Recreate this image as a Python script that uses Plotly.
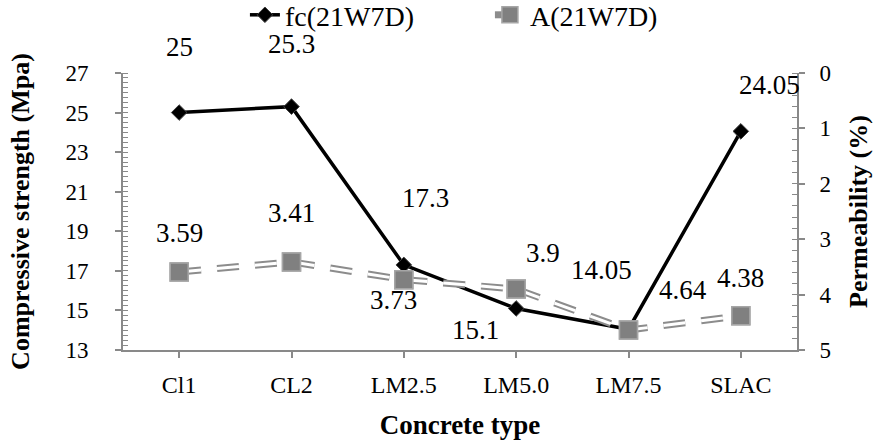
import plotly.graph_objects as go

categories = ["Cl1", "CL2", "LM2.5", "LM5.0", "LM7.5", "SLAC"]
fc_values = [25, 25.3, 17.3, 15.1, 14.05, 24.05]
a_values = [3.59, 3.41, 3.73, 3.9, 4.64, 4.38]
fc_labels = ["25", "25.3", "17.3", "15.1", "14.05", "24.05"]
a_labels = ["3.59", "3.41", "3.73", "3.9", "4.64", "4.38"]

# label offsets (pixels) relative to the points
fc_shift = [(0, 66), (0, 63), (22, 67), (-41, -22), (-27, 59), (29, 46)]
a_shift = [(0, 39), (0, 49), (-10, -20), (27, 36), (54, 40), (0, 38)]

FONT = "Liberation Serif"
AX = "#898989"
DASH = "22px,16px"
LBL = 27

fig = go.Figure()
# A: gray outer dashed line (legend entry) with markers
fig.add_trace(go.Scatter(
    x=categories, y=a_values, name="A(21W7D)", mode="lines+markers", yaxis="y2",
    line=dict(color="#8c8c8c", width=7, dash=DASH),
    marker=dict(symbol="square", size=18, color="#808080", line=dict(color="#a6a6a6", width=1.5)),
))
# A: white inner dashed line
fig.add_trace(go.Scatter(
    x=categories, y=a_values, mode="lines", yaxis="y2", showlegend=False, hoverinfo="skip",
    line=dict(color="white", width=3, dash=DASH),
))
# fc line
fig.add_trace(go.Scatter(
    x=categories, y=fc_values, name="fc(21W7D)", mode="lines+markers",
    line=dict(color="black", width=3.5),
    marker=dict(symbol="diamond", size=12, color="black", line=dict(color="#404040", width=1)),
))
# A markers on top
fig.add_trace(go.Scatter(
    x=categories, y=a_values, mode="markers", yaxis="y2", showlegend=False, hoverinfo="skip",
    marker=dict(symbol="square", size=18, color="#808080", line=dict(color="#a6a6a6", width=1.5)),
))

annotations = []
for c, v, t, (dx, dy) in zip(categories, fc_values, fc_labels, fc_shift):
    annotations.append(dict(x=c, y=v, xref="x", yref="y", text=t, showarrow=False,
                            xshift=dx, yshift=dy, font=dict(family=FONT, size=LBL, color="black")))
for c, v, t, (dx, dy) in zip(categories, a_values, a_labels, a_shift):
    annotations.append(dict(x=c, y=v, xref="x", yref="y2", text=t, showarrow=False,
                            xshift=dx, yshift=dy, font=dict(family=FONT, size=LBL, color="black")))

fig.update_layout(
    width=881, height=444,
    margin=dict(l=123, r=84, t=73, b=94, autoexpand=False),
    paper_bgcolor="white", plot_bgcolor="white",
    font=dict(family=FONT, size=24, color="black"),
    showlegend=True,
    legend=dict(orientation="h", xref="container", x=0.278, xanchor="left",
                yref="container", y=0.966, yanchor="middle", entrywidth=200,
                font=dict(family=FONT, size=28), traceorder="reversed",
                bgcolor="rgba(0,0,0,0)"),
    xaxis=dict(type="category", range=[-0.5, 5.5], showline=True, linecolor=AX, linewidth=2,
               ticks="outside", ticklen=6, tickcolor=AX, tickwidth=1.5, showgrid=False,
               tickfont=dict(family=FONT, size=24), ticklabelstandoff=6, tickangle=0,
               title=dict(text="<b>Concrete type</b>", font=dict(family=FONT, size=27), standoff=18)),
    yaxis=dict(range=[13, 27], tick0=13, dtick=2, showline=True, linecolor=AX, linewidth=2,
               ticks="outside", ticklen=6, tickcolor=AX, tickwidth=1.5, showgrid=False,
               zeroline=False, tickfont=dict(family=FONT, size=23), ticklabelstandoff=22,
               minor=dict(ticks="inside", dtick=0.25, ticklen=5, tickcolor=AX, tickwidth=1),
               title=dict(text="<b>Compressive strength (Mpa)</b>", font=dict(family=FONT, size=26), standoff=28)),
    yaxis2=dict(range=[5, 0], tick0=0, dtick=1, overlaying="y", side="right", showline=True,
                linecolor=AX, linewidth=2, ticks="outside", ticklen=6, tickcolor=AX, tickwidth=1.5,
                showgrid=False, zeroline=False, tickfont=dict(family=FONT, size=23), ticklabelstandoff=10,
                minor=dict(ticks="inside", dtick=0.2, ticklen=5, tickcolor=AX, tickwidth=1),
                title=dict(text="<b>Permeability (%)</b>", font=dict(family=FONT, size=26), standoff=18)),
    annotations=annotations,
)
fig.write_html("out.html")
